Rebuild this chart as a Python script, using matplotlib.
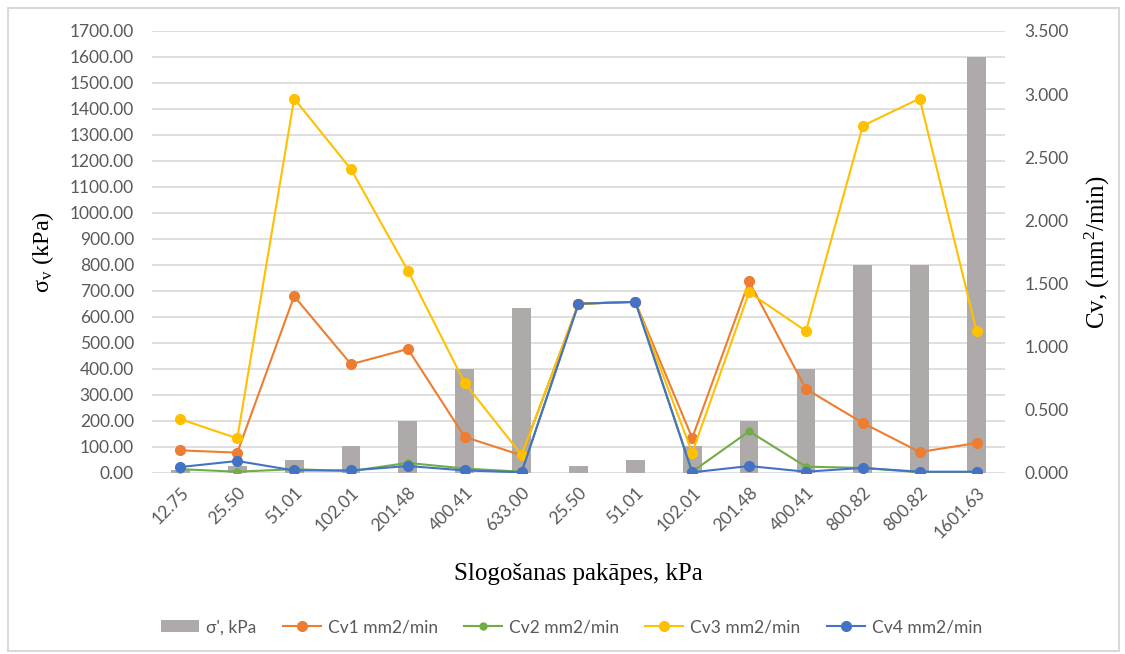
import matplotlib.pyplot as plt
from matplotlib.patches import Rectangle
import numpy as np

# load steps (categories) and bar values
stages = ['12.75', '25.50', '51.01', '102.01', '201.48', '400.41', '633.00',
          '25.50', '51.01', '102.01', '201.48', '400.41', '800.82', '800.82', '1601.63']
sigma = [12.75, 25.50, 51.01, 102.01, 201.48, 400.41, 633.00,
         25.50, 51.01, 102.01, 201.48, 400.41, 800.82, 800.82, 1601.63]

# consolidation coefficients, mm2/min
cv1 = [0.179, 0.161, 1.400, 0.861, 0.982, 0.285, 0.140, 1.340, 1.355,
       0.277, 1.517, 0.665, 0.396, 0.166, 0.237]
cv2 = [0.030, 0.010, 0.030, 0.015, 0.080, 0.035, 0.010, 1.340, 1.355,
       0.010, 0.330, 0.050, 0.040, 0.005, 0.005]
cv3 = [0.426, 0.274, 2.965, 2.405, 1.602, 0.713, 0.143, 1.340, 1.355,
       0.160, 1.430, 1.124, 2.750, 2.965, 1.124]
cv4 = [0.047, 0.095, 0.020, 0.020, 0.055, 0.020, 0.005, 1.340, 1.355,
       0.005, 0.055, 0.010, 0.040, 0.010, 0.010]

tick_font = 'Lato'
tick_col = '#595959'

fig = plt.figure(figsize=(11.25, 6.54), dpi=100)
# outer chart border
fig.patches.append(Rectangle((0.007, 0.004), 0.988, 0.984, transform=fig.transFigure,
                             fill=False, edgecolor='#d9d9d9', linewidth=1.5))

ax = fig.add_axes([0.1351, 0.2768, 0.7582, 0.6758])
x = np.arange(len(stages))

ax.bar(x, sigma, width=0.33, color='#aeaaaa', zorder=2, label="σ', kPa")
ax.set_ylim(0, 1700)
ax.set_xlim(-0.5, len(stages) - 0.5)
ax.set_yticks(np.arange(0, 1701, 100))
ax.set_yticklabels(['%.2f' % v for v in np.arange(0, 1701, 100)])
ax.yaxis.grid(True, color='#d9d9d9', linewidth=1.2, zorder=0)
ax.set_axisbelow(True)
for s in ax.spines.values():
    s.set_visible(False)
ax.tick_params(length=0, colors=tick_col, labelsize=12.5, pad=13)
ax.set_xticks(x)
ax.set_xticklabels(stages, rotation=45, ha='right', rotation_mode='anchor')
for lab in ax.get_xticklabels() + ax.get_yticklabels():
    lab.set_fontfamily(tick_font)
    lab.set_color(tick_col)
ax.tick_params(axis='x', pad=8)

ax.set_ylabel(r'$\mathregular{\sigma_v}$ (kPa)', family='Liberation Serif', fontsize=17.5,
              labelpad=10)
ax.set_xlabel('Slogošanas pakāpes, kPa', family='Liberation Serif', fontsize=18,
              labelpad=16)

ax2 = ax.twinx()
ax2.set_ylim(0, 3.5)
ax2.set_yticks(np.arange(0, 3.51, 0.5))
ax2.set_yticklabels(['%.3f' % v for v in np.arange(0, 3.51, 0.5)])
for s in ax2.spines.values():
    s.set_visible(False)
ax2.tick_params(length=0, colors=tick_col, labelsize=12.5, pad=14)
for lab in ax2.get_yticklabels():
    lab.set_fontfamily(tick_font)
    lab.set_color(tick_col)
ax2.set_ylabel(r'Cv, (mm$\mathregular{^2}$/min)', family='Liberation Serif', fontsize=18,
               labelpad=10)

ax2.plot(x, cv1, color='#ed7d31', marker='o', markersize=7, linewidth=1.5, label='Cv1 mm2/min')
ax2.plot(x, cv2, color='#70ad47', marker='o', markersize=5, linewidth=1.5, label='Cv2 mm2/min')
ax2.plot(x, cv3, color='#ffc000', marker='o', markersize=7, linewidth=1.5, label='Cv3 mm2/min')
ax2.plot(x, cv4, color='#4472c4', marker='o', markersize=7, linewidth=1.5, label='Cv4 mm2/min')

h1, l1 = ax.get_legend_handles_labels()
h2, l2 = ax2.get_legend_handles_labels()
fig.legend(h1 + h2, l1 + l2, loc='center', bbox_to_anchor=(0.508, 0.041), ncol=5,
           frameon=False, prop={'family': tick_font, 'size': 12.5}, labelcolor=tick_col,
           columnspacing=1.5, handlelength=2.2, handletextpad=0.4)

fig.savefig('out.png', dpi=100)
